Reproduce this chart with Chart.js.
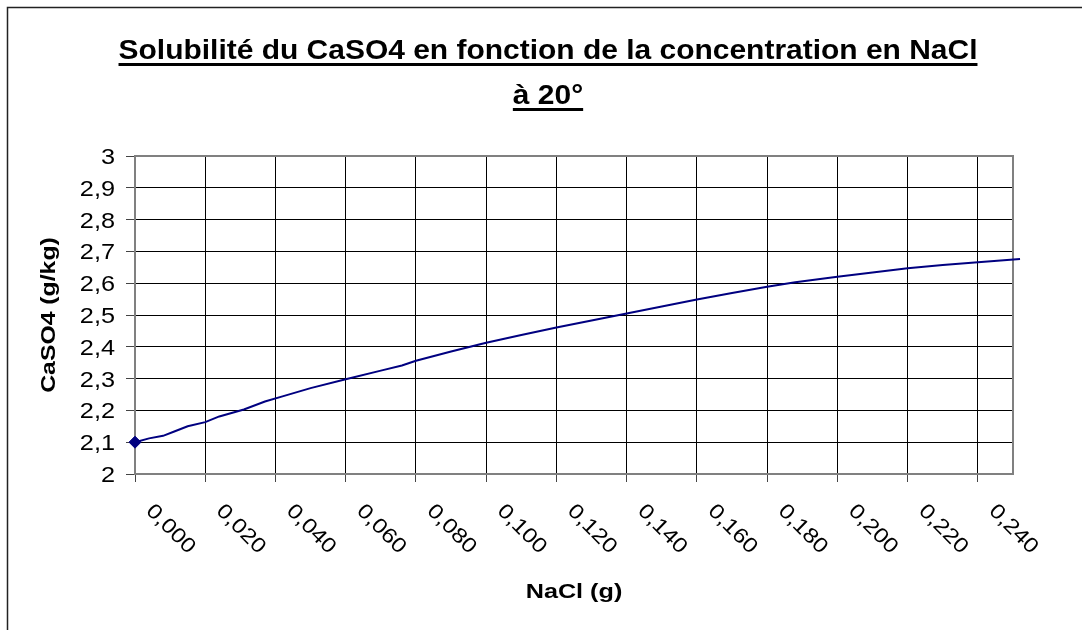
<!DOCTYPE html>
<html>
<head>
<meta charset="utf-8">
<script src="https://cdn.jsdelivr.net/npm/chart.js@4"></script>
<style>
  html, body { margin: 0; padding: 0; background: #fff; }
  #wrap { width: 1082px; height: 630px; }
</style>
</head>
<body>
<div id="wrap"><canvas id="chart" width="1082" height="630"></canvas></div>
<script>
// Data
const nacl = [0, 0.004, 0.008, 0.011, 0.015, 0.020, 0.024, 0.031, 0.037, 0.042, 0.050, 0.060,
  0.070, 0.076, 0.080, 0.090, 0.096, 0.100, 0.110, 0.120, 0.130, 0.140, 0.150, 0.160,
  0.170, 0.180, 0.188, 0.200, 0.210, 0.220, 0.230, 0.240, 0.252];
const caso4 = [2.100, 2.112, 2.120, 2.133, 2.150, 2.163, 2.181, 2.203, 2.228, 2.244, 2.270, 2.298,
  2.325, 2.341, 2.356, 2.385, 2.402, 2.413, 2.437, 2.461, 2.483, 2.505, 2.527, 2.549,
  2.569, 2.589, 2.603, 2.620, 2.634, 2.647, 2.657, 2.666, 2.676];

const xTicks = [0, 0.02, 0.04, 0.06, 0.08, 0.10, 0.12, 0.14, 0.16, 0.18, 0.20, 0.22, 0.24];
const xTickLabels = ['0,000', '0,020', '0,040', '0,060', '0,080', '0,100', '0,120',
  '0,140', '0,160', '0,180', '0,200', '0,220', '0,240'];
const yTicks = [2, 2.1, 2.2, 2.3, 2.4, 2.5, 2.6, 2.7, 2.8, 2.9, 3];
const yTickLabels = ['2', '2,1', '2,2', '2,3', '2,4', '2,5', '2,6', '2,7', '2,8', '2,9', '3'];

const titleLines = ['Solubilité du CaSO4 en fonction de la concentration en NaCl', 'à 20°'];
const xTitle = 'NaCl (g)';
const yTitle = 'CaSO4 (g/kg)';

const FONT = '"Liberation Sans", Arial, Helvetica, sans-serif';

function wideText(ctx, text, x, y, rot, align, font, sx) {
  ctx.save();
  ctx.translate(x, y);
  ctx.rotate(rot);
  ctx.scale(sx, 1);
  ctx.font = font;
  ctx.textAlign = align;
  ctx.textBaseline = 'alphabetic';
  ctx.fillStyle = '#000';
  ctx.fillText(text, 0, 0);
  const w = ctx.measureText(text).width * sx;
  ctx.restore();
  return w;
}

// Excel-like frame, plot border and all texts
const excelLook = {
  id: 'excelLook',
  beforeDatasetsDraw(chart) {
    const {ctx, chartArea: a} = chart;
    ctx.save();
    ctx.strokeStyle = '#808080';
    ctx.lineWidth = 2;
    ctx.strokeRect(a.left, a.top, a.right - a.left, a.bottom - a.top);
    ctx.restore();
  },
  afterDraw(chart) {
    const {ctx} = chart;
    const xs = chart.scales.x, ys = chart.scales.y;

    // outer frame (left and top edges only visible)
    ctx.save();
    ctx.strokeStyle = '#222';
    ctx.lineWidth = 1.5;
    ctx.beginPath();
    ctx.moveTo(7.5, 630);
    ctx.lineTo(7.5, 7.5);
    ctx.lineTo(1082, 7.5);
    ctx.stroke();
    ctx.restore();

    // title, underlined
    const tFont = 'bold 28px ' + FONT;
    const tx = 548;
    const tY = [59, 104];
    titleLines.forEach((line, i) => {
      const w = wideText(ctx, line, tx, tY[i], 0, 'center', tFont, 1.07);
      ctx.save();
      ctx.fillStyle = '#000';
      ctx.fillRect(tx - w / 2, tY[i] + 4, w, 3);
      ctx.restore();
    });

    // y tick labels
    yTicks.forEach((v, i) => {
      wideText(ctx, yTickLabels[i], 115, ys.getPixelForValue(v) + 8, 0, 'right', '22px ' + FONT, 1.15);
    });

    // x tick labels, slanted down to the right
    xTicks.forEach((v, i) => {
      wideText(ctx, xTickLabels[i], xs.getPixelForValue(v) + 10, 512, Math.PI / 4, 'left', '21px ' + FONT, 1.15);
    });

    // axis titles
    const a = chart.chartArea;
    wideText(ctx, xTitle, (a.left + a.right) / 2, 598, 0, 'center', 'bold 21px ' + FONT, 1.2);
    wideText(ctx, yTitle, 55, (a.top + a.bottom) / 2, -Math.PI / 2, 'center', 'bold 21px ' + FONT, 1.18);
  }
};

const ctx = document.getElementById('chart');
const chart = new Chart(ctx, {
  type: 'line',
  data: {
    datasets: [{
      label: 'CaSO4',
      data: nacl.map((x, i) => ({x: x, y: caso4[i]})),
      borderColor: '#000080',
      backgroundColor: '#000080',
      borderWidth: 2,
      tension: 0,
      pointStyle: 'rectRot',
      pointRadius: nacl.map((x, i) => i === 0 ? 6 : 0),
      pointBorderWidth: 1,
      clip: false
    }]
  },
  options: {
    responsive: false,
    animation: false,
    events: [],
    layout: { padding: { left: 8, top: 156, right: 69, bottom: 0 } },
    plugins: {
      legend: { display: false },
      title: { display: false },
      tooltip: { enabled: false }
    },
    scales: {
      x: {
        type: 'linear',
        min: 0,
        max: 0.25,
        afterBuildTicks: (scale) => { scale.ticks = xTicks.map(v => ({value: v})); },
        ticks: { display: false, includeBounds: false },
        grid: { color: '#000', lineWidth: 1, tickLength: 8, tickColor: '#444' },
        border: { display: false },
        afterFit: (scale) => { scale.height = 156; }
      },
      y: {
        min: 2,
        max: 3,
        afterBuildTicks: (scale) => { scale.ticks = yTicks.map(v => ({value: v})); },
        ticks: { display: false },
        grid: { color: '#000', lineWidth: 1, tickLength: 9, tickColor: '#444' },
        border: { display: false },
        afterFit: (scale) => { scale.width = 127; }
      }
    }
  },
  plugins: [excelLook]
});
</script>
</body>
</html>
